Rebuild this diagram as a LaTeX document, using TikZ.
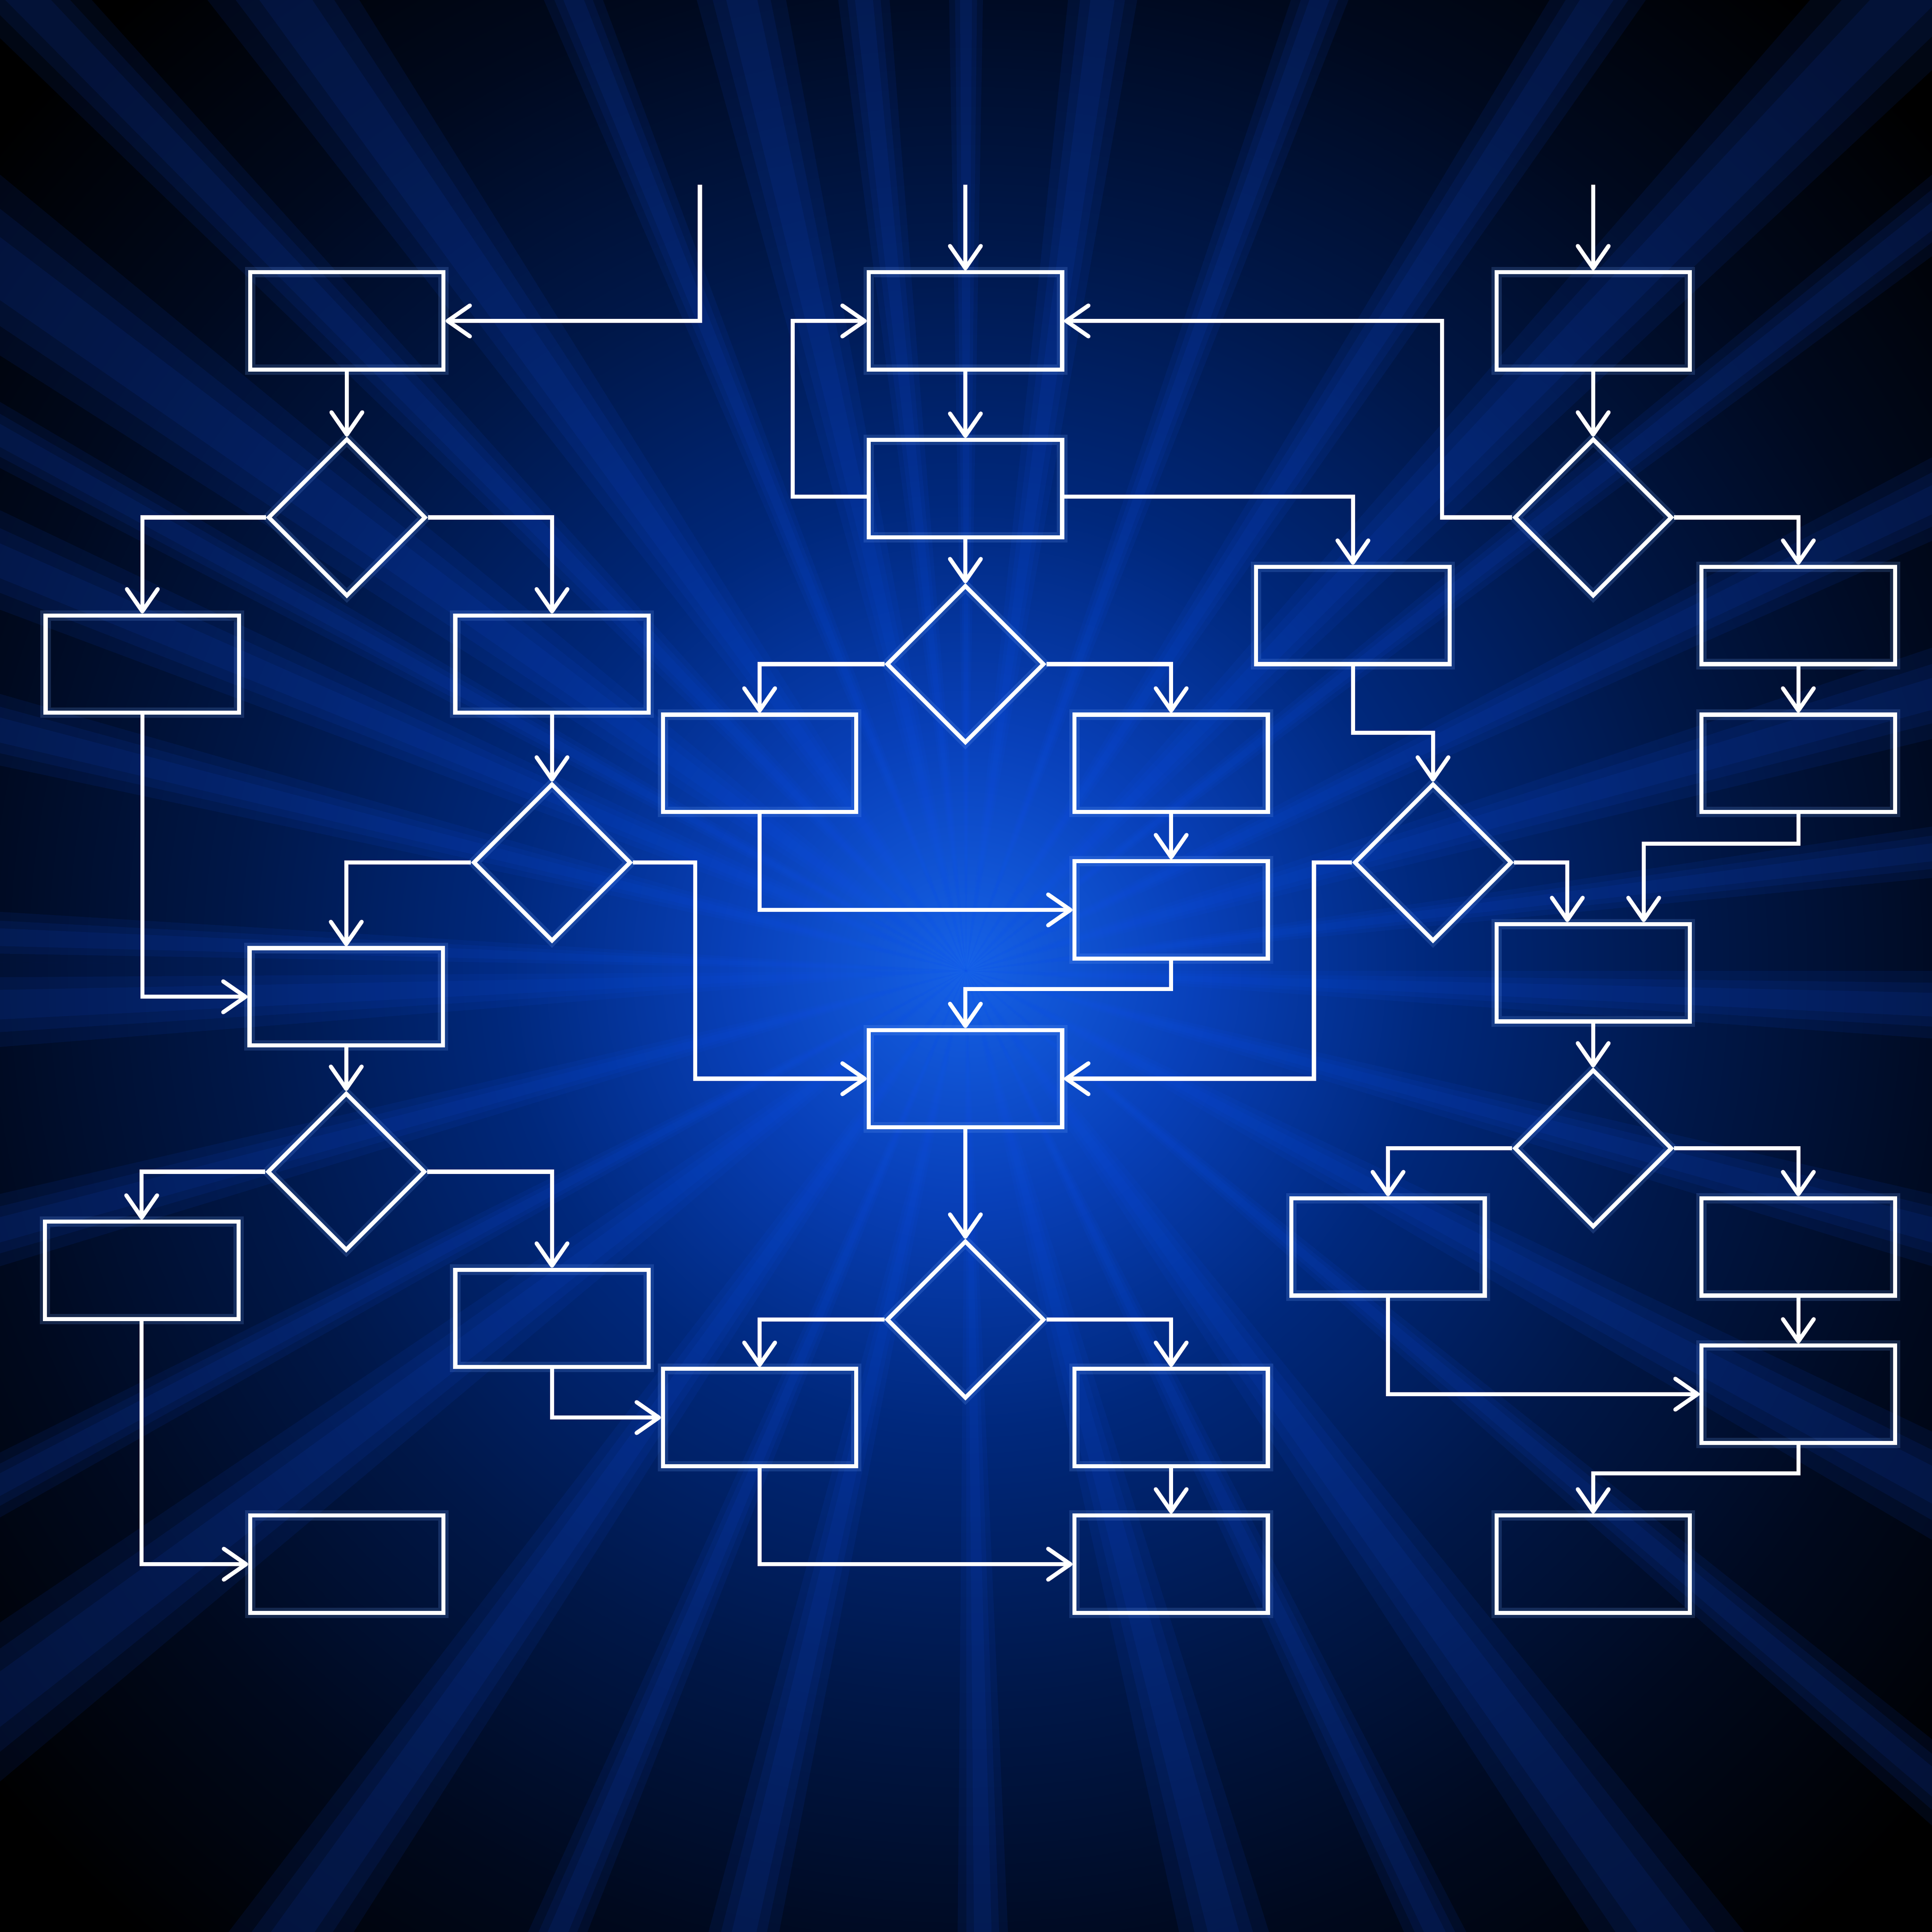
\documentclass[tikz,border=0pt]{standalone}
\usepackage{tikz}
\usetikzlibrary{positioning}
\usetikzlibrary{shapes.geometric}
\usetikzlibrary{arrows.meta}
\definecolor{glowA}{RGB}{22,98,232}
\definecolor{glowB}{RGB}{8,64,185}
\definecolor{glowC}{RGB}{0,40,124}
\definecolor{glowD}{RGB}{0,23,72}
\definecolor{glowE}{RGB}{0,9,30}
\definecolor{rayblue}{RGB}{14,82,240}
\definecolor{haze}{RGB}{120,170,255}
\pgfdeclareradialshading{bgglow}{\pgfpoint{0bp}{0bp}}{color(0bp)=(glowA); color(6bp)=(glowB); color(12bp)=(glowC); color(19bp)=(glowD); color(26bp)=(glowE); color(33bp)=(black); color(50bp)=(black)}
\tikzset{proc/.style={draw=white, line width=0.95pt, minimum width=1.57cm, minimum height=0.79cm, inner sep=0pt,
    preaction={draw=haze, line width=2.4pt, opacity=0.18}}}
\tikzset{cond/.style={diamond, aspect=1, draw=white, line width=0.95pt, minimum size=1.28cm, inner sep=0pt,
    preaction={draw=haze, line width=2.4pt, opacity=0.18}}}
\tikzset{flow/.style={draw=white, line width=0.95pt, -{Straight Barb[length=1.8mm,width=2.5mm,round]}}}
\tikzset{ray/.style={fill=rayblue, opacity=0.085}}

\begin{document}
\begin{tikzpicture}[on grid]
        \useasboundingbox (0,0) rectangle (15.68,15.68);
        % background
        \fill[black] (0,0) rectangle (15.68,15.68);
        \shade[shading=bgglow] (0,0) rectangle (15.68,15.68);
        \begin{scope}
            \clip (0,0) rectangle (15.68,15.68);
            \coordinate (O) at (7.84,7.8);
            \foreach \a/\w in {125/3, 134/2, 144/3.5, 151/1.5, 157/2.5, 166/2, 178/1.5, 182/2.5, 195/2, 208/1.5,
                               217/3, 235/2.5, 247/1.5, 257/2, 271/1.5, 285/2.5, 296/1.5, 306/3, 320/1.5, 332/2.5,
                               345/2, 358/2, 7/1.5, 16/2.5, 26/2, 38/1.5, 46/3, 57/2, 70/1.5, 82/2, 90/1, 96/1.5, 103/2.5, 112/1.5}
            {
                \foreach \k in {1,0.65,0.35}
                    \fill[ray] (O) -- +(\a-\w*\k:14) -- +(\a+\w*\k:14) -- cycle;
            }
        \end{scope}

        % left column
        \node[proc] (l1) at (2.815,13.075) {};
        \node[cond, below=1.595 of l1] (ld1) {};
        \node[proc, below left=1.19 and 1.66 of ld1] (l2) {};
        \node[proc, below right=1.19 and 1.665 of ld1] (l3) {};
        \node[cond, below=1.61 of l3] (ld2) {};
        \node[proc, below left=1.09 and 1.67 of ld2] (l4) {};
        \node[cond, below=1.42 of l4] (ld3) {};
        \node[proc, below left=0.80 and 1.66 of ld3] (l5) {};
        \node[proc, below right=1.19 and 1.67 of ld3] (l6) {};
        \node[proc] (l7) at (2.815,2.985) {};

        % centre column
        \node[proc] (c1) at (7.835,13.075) {};
        \node[proc, below=1.36 of c1] (c2) {};
        \node[cond, below=1.425 of c2] (cd1) {};
        \node[proc, below left=0.805 and 1.67 of cd1] (c3) {};
        \node[proc, below right=0.805 and 1.67 of cd1] (c4) {};
        \node[proc, below=1.19 of c4] (c5) {};
        \node[proc] (c6) at (7.835,6.925) {};
        \node[cond, below=1.955 of c6] (cd2) {};
        \node[proc, below left=0.795 and 1.67 of cd2] (c7) {};
        \node[proc, below right=0.795 and 1.67 of cd2] (c8) {};
        \node[proc, below=1.19 of c8] (c9) {};

        % right column
        \node[proc] (r1) at (12.93,13.075) {};
        \node[cond, below=1.595 of r1] (rd1) {};
        \node[proc] (r2) at (10.98,10.685) {};
        \node[proc, below right=0.795 and 1.665 of rd1] (r3) {};
        \node[proc, below=1.2 of r3] (r4) {};
        \node[cond] (rd2) at (11.63,8.68) {};
        \node[proc] (r5) at (12.93,7.785) {};
        \node[cond, below=1.425 of r5] (rd3) {};
        \node[proc, below left=0.80 and 1.665 of rd3] (r6) {};
        \node[proc, below right=0.80 and 1.665 of rd3] (r7) {};
        \node[proc, below=1.195 of r7] (r8) {};
        \node[proc] (r9) at (12.93,2.985) {};

        \coordinate (inl) at (5.68,14.18);
        \coordinate (inc) at (7.835,14.18);
        \coordinate (inr) at (12.93,14.18);

        % left connectors
        \draw[flow] (inl) |- (l1.east);
        \draw[flow] (l1) -- (ld1);
        \draw[flow] (ld1.west) -| (l2.north);
        \draw[flow] (ld1.east) -| (l3.north);
        \draw[flow] (l2.south) |- (l4.west);
        \draw[flow] (l3) -- (ld2);
        \draw[flow] (ld2.west) -| (l4.north);
        \draw[flow] (ld2.east) -- ++(0.505,0) |- (c6.west);
        \draw[flow] (l4) -- (ld3);
        \draw[flow] (ld3.west) -| (l5.north);
        \draw[flow] (ld3.east) -| (l6.north);
        \draw[flow] (l5.south) |- (l7.west);
        \draw[flow] (l6.south) |- (c7.west);

        % centre connectors
        \draw[flow] (inc) -- (c1.north);
        \draw[flow] (c1) -- (c2);
        \draw[flow] ([yshift=-0.65mm]c2.west) -- ++(-0.6,0) |- (c1.west);
        \draw[flow] ([yshift=-0.65mm]c2.east) -| (r2.north);
        \draw[flow] (c2) -- (cd1);
        \draw[flow] (cd1.west) -| (c3.north);
        \draw[flow] (cd1.east) -| (c4.north);
        \draw[flow] (c3.south) |- (c5.west);
        \draw[flow] (c4) -- (c5);
        \draw[flow] (c5.south) -- ++(0,-0.23) -| (c6.north);
        \draw[flow] (rd2.west) -- ++(-0.31,0) |- (c6.east);
        \draw[flow] (c6) -- (cd2);
        \draw[flow] (cd2.west) -| (c7.north);
        \draw[flow] (cd2.east) -| (c8.north);
        \draw[flow] (c7.south) |- (c9.west);
        \draw[flow] (c8) -- (c9);

        % right connectors
        \draw[flow] (inr) -- (r1.north);
        \draw[flow] (r1) -- (rd1);
        \draw[flow] (rd1.west) -- ++(-0.57,0) |- (c1.east);
        \draw[flow] (rd1.east) -| (r3.north);
        \draw[flow] (r3) -- (r4);
        \draw[flow] (r2.south) -- ++(0,-0.54) -| (rd2.north);
        \draw[flow] (rd2.east) -| ([xshift=-2.1mm]r5.north);
        \draw[flow] (r4.south) -- ++(0,-0.24) -| ([xshift=4.1mm]r5.north);
        \draw[flow] (r5) -- (rd3);
        \draw[flow] (rd3.west) -| (r6.north);
        \draw[flow] (rd3.east) -| (r7.north);
        \draw[flow] (r7) -- (r8);
        \draw[flow] (r6.south) |- (r8.west);
        \draw[flow] (r8.south) -- ++(0,-0.23) -| (r9.north);
    \end{tikzpicture}
\end{document}
